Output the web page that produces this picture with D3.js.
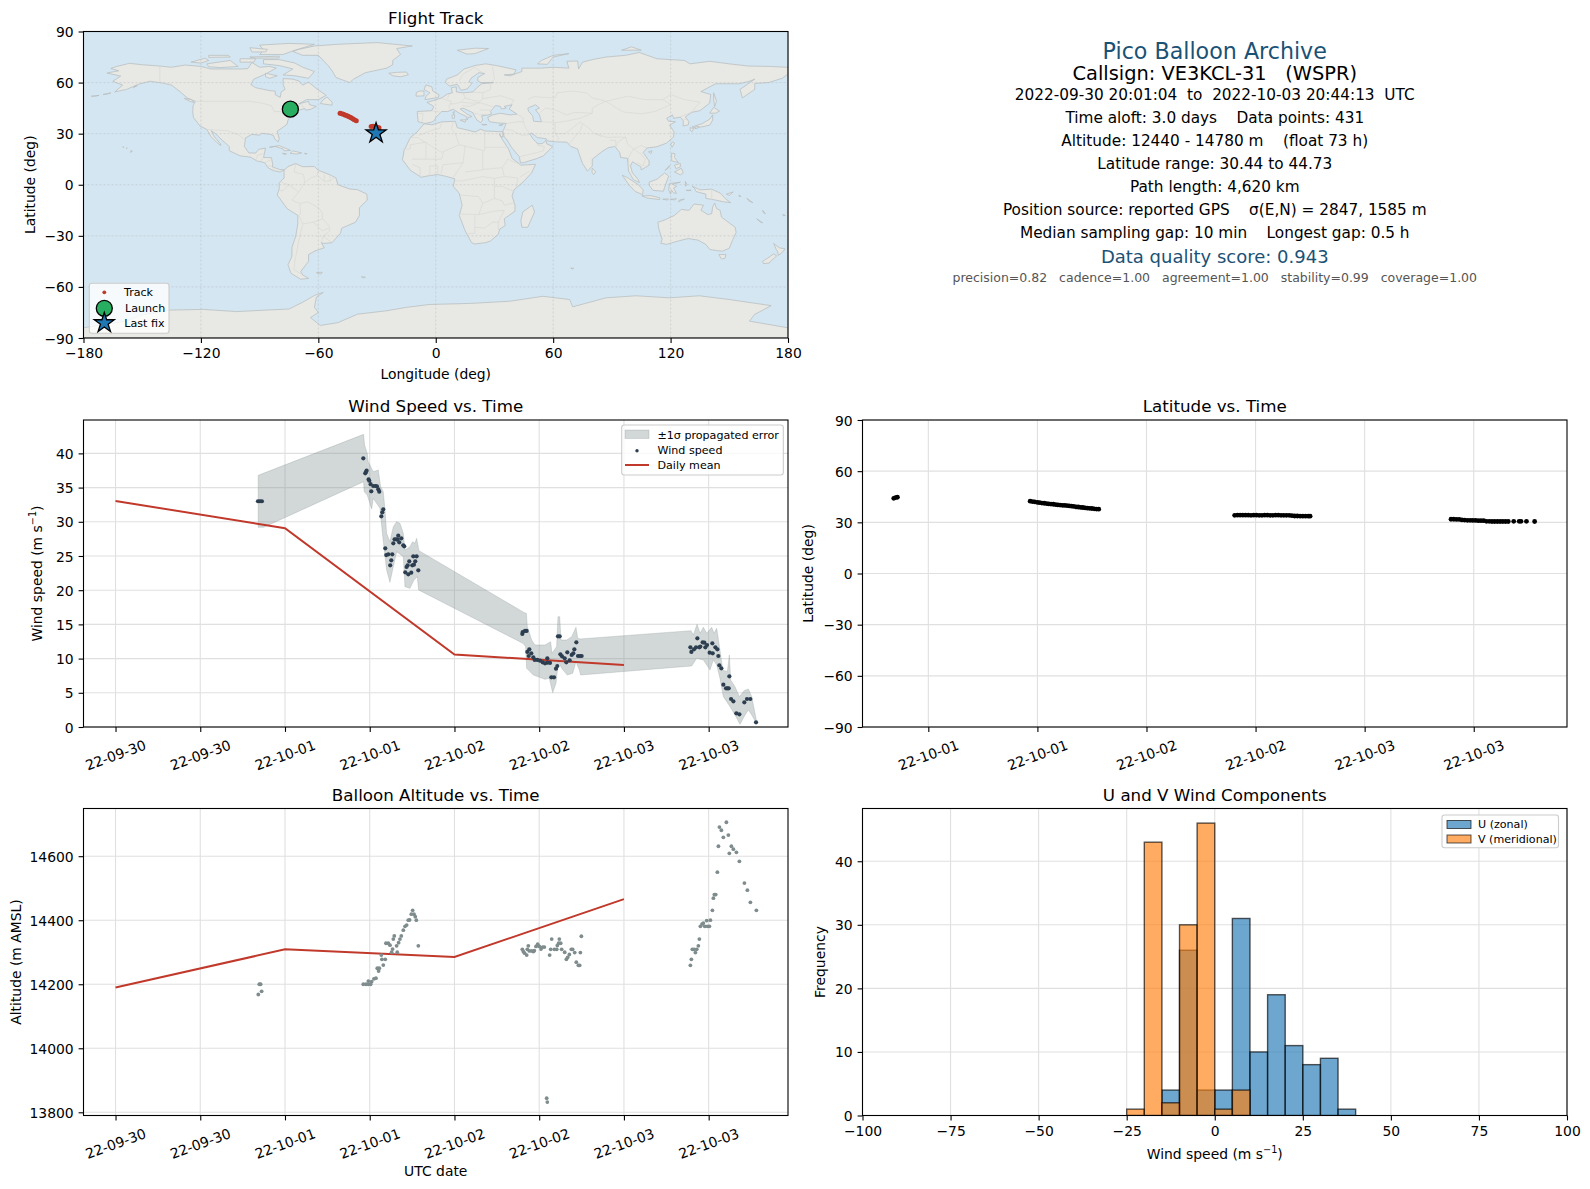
<!DOCTYPE html>
<html>
<head>
<meta charset="utf-8">
<script src="https://cdn.jsdelivr.net/npm/d3@7"></script>
<style>
  body { margin: 0; background: #fff; }
  text { font-family: "DejaVu Sans", sans-serif; white-space: pre; }
</style>
</head>
<body>
<div id="chart"></div>
<script>
// all times are hours after 2022-09-30 00:00 UTC
const windPoints = [
  [20.17,33],[20.45,33],[20.73,33],[35.09,39.28],[35.37,37.08],[35.46,37.28],[35.56,37.47],[35.84,36.2],[35.94,36],
  [36.12,35.5],[36.22,34.45],[36.5,35.23],[36.83,35.23],[37.02,35.18],[37.21,34.74],[37.35,34.4],[37.64,30.8],
  [37.78,31.38],[37.92,31.82],[38.2,26.12],[38.34,25.14],[38.63,25.24],[38.9,23.63],[39.05,24.36],[39.19,25.24],
  [39.34,26.85],[39.52,27.43],[39.76,27.43],[39.95,27.39],[40.04,27.97],[40.18,27],[40.47,27.58],[40.75,26.56],
  [40.89,26.41],[41.03,22.61],[41.22,23.39],[41.37,23.63],[41.46,22.32],[41.6,24.22],[41.88,22.56],[42.03,23.63],
  [42.17,24.95],[42.26,23.73],[42.45,24.22],[42.64,24.95],[42.88,22.9],
  [57.61,13.6],[57.66,13.89],[57.99,14.04],[58.22,14.04],[58.32,10.97],[58.51,10.38],[58.6,11.36],[58.88,10.77],
  [59.17,10.19],[59.36,9.8],[59.73,9.8],[60.11,9.7],[60.49,9.45],[60.82,9.31],[61.15,10.04],[61.15,9.41],[61.53,9.36],
  [61.72,7.26],[62.1,7.26],[62.38,8.53],[62.57,8.92],[62.66,13.26],[62.9,13.26],[63,10.62],[63.23,10.33],[63.61,10.04],
  [63.84,9.45],[63.98,10.92],[64.31,9.75],[64.6,10.53],[64.83,10.77],[64.98,11.36],[65.26,12.38],[65.5,10.38],
  [65.78,10.38],[66.01,10.38],
  [81.41,11.65],[81.55,10.97],[81.92,11.36],[82.21,11.65],[82.4,12.96],[82.68,11.65],[82.82,11.75],[83.15,12.38],
  [83.39,12.33],[83.53,11.65],[83.77,11.99],[84.14,10.87],[84.52,12.23],[84.57,10.77],[84.95,11.65],[85.23,11.36],
  [85.37,10.38],[85.51,9.02],[85.8,8.58],[86.08,6.19],[86.46,5.65],[86.65,5.65],[86.84,5.65],[86.93,7.41],[87.17,4.09],
  [87.5,3.75],[87.92,2],[88.35,1.85],[89.05,3.61],[89.43,4.09],[89.9,4.09],[90.71,0.68]
];
const bandUpper = [
  [20.2,36.79],[35.13,42.78],[35.27,41.23],[35.65,40],[35.79,38.79],[36.5,37.33],[37.21,37.57],[37.54,35.13],
  [37.92,34.4],[38.2,31.24],[38.39,28.31],[38.86,27.09],[39.34,29.29],[39.81,30.02],[40.28,29.77],[40.75,28.31],
  [40.99,25.87],[41.7,26.36],[42.07,27.09],[42.4,26.85],[42.64,27.58],[42.97,25.78],[57.89,16.72],[58.18,16.62],
  [58.32,14.67],[58.93,12.72],[59.4,11.99],[60.82,11.99],[61.62,12.48],[61.81,10.77],[62.47,11.75],[62.66,16.13],
  [62.9,16.13],[63.09,12.72],[63.89,12.72],[64.6,13.21],[65.21,14.57],[65.45,12.96],[65.78,12.87],[81.5,14.08],
  [81.83,13.45],[82.35,15.01],[82.78,13.7],[83.25,14.57],[83.72,13.7],[84.43,14.57],[84.76,13.7],[85.14,14.43],
  [85.6,11.26],[85.99,8.33],[86.65,8.09],[86.93,10.53],[87.12,6.87],[87.73,5.9],[88.35,4.44],[89.01,5.31],[89.62,5.56],
  [90.1,4.44],[90.75,1.02]
];
const bandLower = [
  [20.2,29.2],[21,29.2],[35.13,35.86],[35.22,34.4],[35.65,33.9],[36.27,31.87],[36.5,33.43],[37.45,31.97],[37.82,28.07],
  [38.39,22.95],[38.86,21.15],[39.34,23.44],[39.81,25.63],[40.75,24.9],[40.99,20.51],[41.7,20.27],[42.26,21.49],
  [42.74,21.98],[42.92,20.03],[57.75,12.2],[58.08,11.75],[58.22,8.58],[59.17,7.6],[60.82,6.97],[61.43,7.12],[61.91,5.02],
  [62.38,6.38],[62.71,9.55],[63.18,8.58],[63.98,7.6],[64.74,7.85],[65.21,9.55],[65.68,8.33],[65.87,7.6],[81.6,8.92],
  [82.3,10.04],[83.25,9.8],[84.19,8.33],[84.66,9.8],[85.14,9.07],[85.6,7.12],[86.08,4.44],[87.03,2.97],[87.73,1.76],
  [88.44,0.39],[89.15,1.76],[89.62,2.49],[90.1,1.76],[90.75,0.54]
];
const dailyHours = [0, 24, 48, 72];
const dailyWind = [33.05, 29.05, 10.6, 9.05];
const dailyAltitude = [14190, 14309, 14285, 14466];

const latPoints = [
  [20.2,44.1],[20.4,44.5],[20.6,44.7],
  [35.2,42.4],[35.45,42.2],[35.7,42],[36,41.7],[36.25,41.5],[36.5,41.3],[36.75,41.2],[37,41],[37.25,40.8],[37.5,40.7],
  [37.75,40.6],[38,40.4],[38.25,40.2],[38.5,40.1],[38.75,40],[39,39.9],[39.25,39.8],[39.5,39.6],[39.75,39.5],[40,39.3],
  [40.25,39.1],[40.5,39],[40.75,38.8],[41,38.7],[41.25,38.5],[41.5,38.3],[41.75,38.2],[42,38.1],[42.25,37.9],[42.5,37.8],[42.75,37.7],
  [57.7,34.1],[58,34.2],[58.3,34.2],[58.6,34.2],[58.9,34.2],[59.2,34.2],[59.5,34.1],[59.8,34.2],[60.1,34.2],[60.4,34.1],
  [60.7,34.1],[61,34.2],[61.3,34.2],[61.6,34.1],[61.9,34.1],[62.2,34.2],[62.5,34.2],[62.8,34.1],[63.1,34.1],[63.4,34.1],
  [63.7,34.1],[64,33.9],[64.3,33.7],[64.6,33.7],[64.9,33.6],[65.2,33.6],[65.5,33.6],[65.8,33.6],[66,33.6],
  [81.5,31.8],[81.8,31.8],[82.1,31.7],[82.4,31.7],[82.7,31.4],[83,31.3],[83.3,31.2],[83.6,31.2],[83.9,31.1],[84.2,31.1],
  [84.5,31],[84.8,31],[85.1,31],[85.4,30.6],[85.7,30.6],[86,30.5],[86.3,30.5],[86.6,30.5],[86.9,30.5],[87.2,30.5],[87.5,30.5],
  [87.8,30.5],[88.4,30.6],[89,30.6],[89.2,30.6],[89.8,30.6],[90.7,30.5]
];

const altitudePoints = [
  [20.22,14168],[20.36,14200],[20.55,14200],[20.69,14178],
  [35.09,14200],[35.47,14200],[35.8,14200],[35.8,14210],[36.13,14200],[36.27,14208],[36.6,14217],[36.88,14219],
  [37.07,14250],[37.26,14241],[37.36,14250],[37.64,14291],[37.73,14278],[37.92,14260],[38.2,14278],[38.3,14328],
  [38.63,14328],[38.87,14322],[39.1,14300],[39.24,14310],[39.34,14341],[39.48,14351],[39.81,14320],[39.9,14300],
  [40.09,14330],[40.28,14341],[40.47,14351],[40.76,14369],[41,14381],[41.23,14385],[41.46,14400],[41.65,14401],
  [41.89,14419],[42.08,14431],[42.27,14419],[42.45,14411],[42.6,14400],[42.88,14320],
  [57.61,14309],[57.76,14302],[57.94,14297],[58.23,14291],[58.32,14309],[58.46,14320],[58.6,14304],[58.94,14304],
  [59.17,14302],[59.31,14305],[59.55,14318],[59.79,14325],[60.02,14318],[60.26,14310],[60.49,14316],[60.73,14316],
  [61.06,13844],[61.15,13832],[61.48,14291],[61.63,14309],[61.77,14341],[62.15,14309],[62.48,14309],[62.57,14321],
  [62.76,14328],[62.85,14341],[63.04,14328],[63.18,14309],[63.61,14300],[63.85,14278],[64.03,14284],[64.27,14293],
  [64.55,14309],[64.74,14309],[65.03,14299],[65.26,14269],[65.55,14259],[65.73,14259],[65.83,14299],[65.97,14350],
  [81.41,14259],[81.55,14278],[81.69,14309],[81.93,14309],[82.12,14299],[82.31,14309],[82.54,14320],[82.68,14341],
  [82.83,14381],[83.06,14388],[83.25,14391],[83.44,14381],[83.72,14399],[83.82,14381],[84.1,14381],[84.24,14400],
  [84.53,14431],[84.67,14469],[84.81,14480],[85,14480],[85.23,14550],[85.38,14631],[85.52,14691],[85.8,14681],
  [86.08,14659],[86.51,14706],[86.79,14666],[86.93,14609],[87.22,14631],[87.5,14622],[87.93,14612],[88.35,14584],
  [89.06,14516],[89.48,14494],[89.91,14456],[90.76,14431]
];

const uBins = [[-15,4],[-10,26],[-5,4],[0,4],[5,31],[10,10],[15,19],[20,11],[25,8],[30,9],[35,1]];
const vBins = [[-25,1],[-20,43],[-15,2],[-10,30],[-5,46],[0,1],[5,4]];

// track in lon/lat
const trackPoints = [
  [-48.9,42],[-48,41.7],[-47.2,41.4],[-46.4,41],[-45.6,40.6],[-44.8,40.2],[-44,39.8],[-43.2,39.3],[-42.4,38.8],[-41.6,38.2],[-40.6,37.6],
  [-33,34.2],[-32,34.3],[-31,34.2],[-30,33.8],[-29,33.5],[-29,32],[-30,31],[-30.5,30.5]
];
const launchPoint = [-74.3, 44.4];
const lastPoint = [-30.5, 30.3];

const landPolygons = [
  // North America
  [[-168,65.6],[-164,66.5],[-162,66.9],[-166,68.3],[-163,69.5],[-156.5,71.3],[-150,70.5],[-141,69.7],[-135,69],[-128,70.3],[-120,69.5],[-115,68],[-108,68],[-100,68],[-96,68.2],[-94,71.8],[-90,69],[-85,69.5],[-81.5,68.5],[-87,65],[-93,62],[-94.5,58.8],[-92,57],[-85,55.3],[-82,55],[-82,52.9],[-79.5,51.3],[-79,54.5],[-77,56],[-78,59],[-78,62.4],[-73,62],[-70,61],[-68,58.5],[-65,60.3],[-61,56.5],[-56,52.5],[-60,50],[-66,50],[-70,47.5],[-65,49],[-64.5,47],[-61,46],[-64,44.3],[-66.5,43.8],[-67,44.8],[-70,43.7],[-70.5,41.8],[-74,40.6],[-75.5,38],[-76,35.5],[-78,33.8],[-81,31.5],[-80,27],[-80.5,25.2],[-82,26.5],[-83,29],[-85,29.7],[-89,30.2],[-90,29.1],[-94,29.6],[-97.2,27.5],[-97.8,22.5],[-95.5,18.7],[-92,18.6],[-90.5,20.8],[-87,21.5],[-88,16],[-84,15.9],[-83.3,12],[-83.5,10.5],[-80,9],[-77.5,8.7],[-79.5,7.5],[-83,8.3],[-85.7,10],[-87.5,13],[-91.5,14],[-94.5,16.2],[-100,17],[-105.5,20],[-105.5,22.5],[-109,26],[-112.5,30],[-114.7,31.7],[-113,28],[-110,24],[-109.8,23],[-112,25],[-115,28.5],[-117,32.5],[-120.5,34.5],[-123.8,39.5],[-124.2,43],[-124,46.5],[-122.8,49],[-127,51],[-130.5,54.5],[-135,58.5],[-140,59.8],[-146,60.8],[-152,59],[-158,56],[-164,54.5],[-160,58.5],[-165,60.8],[-161,63.8]],
  // Canadian arctic
  [[-80,73.5],[-72,71.5],[-68,69],[-62,66.5],[-65,62.5],[-72,64],[-78,64.5],[-73,68],[-80,70],[-88,71],[-88,73.5]],
  [[-117,71],[-105,73],[-101,69.5],[-110,68.8],[-116,69.3]],
  [[-125,72],[-118,74.3],[-116,73],[-120,71.5]],
  [[-90,76.5],[-78,76.5],[-72,79],[-62,82.5],[-75,83],[-90,82],[-88,79]],
  [[-95,75],[-80,75.5],[-80,74.5],[-92,74.3]],
  [[-116,76],[-106,76],[-105,75],[-116,74.8]],
  [[-95,80.5],[-86,79.5],[-87,78],[-94,78]],
  [[-100,74],[-92,74],[-93,72],[-100,72]],
  [[-87,65.5],[-81,64],[-85,62.5],[-87,63.5]],
  [[-59,47.7],[-53,46.7],[-53,48.5],[-55.5,51.5],[-57.5,50]],
  [[-128.5,50.7],[-125,50],[-123.5,48.4],[-125.5,48.9]],
  [[-153.5,57.8],[-152.5,58.3],[-154.5,57]],
  [[-176,52],[-172,52.5],[-174,52]],[[-170,53],[-166,54],[-168,53.2]],
  [[-85,22],[-80,23],[-74.2,20.2],[-77.5,19.9],[-78,21],[-82,22.5]],
  [[-74.4,18.5],[-73,19.9],[-68.5,18.7],[-71,18]],
  [[-78.3,18.4],[-76.3,18.2],[-77,17.8]],[[-67,18.5],[-65.7,18.3],[-66.8,18]],
  [[-156,19],[-155,19.7],[-155.7,20.2]],[[-158.2,21.5],[-157.7,21.7],[-157.8,21.3]],[[-160,22.2],[-159.3,22.2],[-159.5,21.9]],
  // Greenland, Iceland
  [[-73,78.3],[-68,76],[-60,76],[-55,70],[-53,67],[-51,63],[-44,60],[-42,62],[-36,65.8],[-25,68.5],[-22,70.5],[-22,73],[-18,76.5],[-20,80],[-12,81.5],[-30,83.5],[-50,82.5],[-62,81.5],[-70,79.5]],
  [[-24,65.5],[-22,64],[-18,63.4],[-14,64.6],[-15,66.2],[-20,66]],
  // South America
  [[-77.5,8.7],[-75,11],[-71.5,12.4],[-68,10.6],[-62,10.7],[-60,8.5],[-54,5.8],[-51,4],[-50,0],[-44,-2.5],[-40,-2.9],[-35.2,-5.5],[-35,-9],[-39,-13.5],[-39,-18],[-41,-22],[-48,-25.5],[-48.7,-28.5],[-53,-34],[-57,-34.5],[-58.5,-34],[-57,-37],[-62,-39],[-65,-41],[-65,-45],[-69,-51],[-68,-53],[-65,-55],[-69,-55.5],[-74,-52],[-75.5,-47],[-73.5,-42],[-73.5,-37],[-71.5,-30],[-70.5,-23],[-70.5,-18],[-76,-14],[-81,-6],[-80,-2.5],[-80,1],[-77.5,4],[-77.5,7]],
  [[-61,-51.5],[-58,-51.4],[-58.5,-52.3],[-60.5,-52.2]],
  [[-38,-54],[-36,-54.3],[-37,-54.7]],
  // Africa
  [[-6,35.8],[-2,35.2],[3,36.9],[10,37.3],[11,33.5],[15.5,32.3],[20,31],[23,32.6],[25,31.6],[32,31.2],[34.3,31.2],[34.3,28],[33.3,28.2],[32.5,30],[33.8,27],[35.5,24],[37.2,21],[39,15.5],[43,12],[43.3,11.5],[51,12],[49,7],[45,2],[40,-3],[39,-6.5],[40.5,-12],[40.5,-15.5],[35,-20],[35.5,-24],[32.7,-26],[32,-29],[28,-33],[25.5,-34],[20,-34.8],[18.3,-34],[15,-27],[12,-18],[13.5,-12],[12,-5],[9,-1],[9.7,3.5],[5,5],[1,6],[-4,5.2],[-7.5,4.4],[-13,8.5],[-17,14.7],[-16.2,20],[-13,27.7],[-9.5,31]],
  [[49.3,-12],[50.5,-16],[47,-25],[44,-25],[43.5,-21],[44.5,-16]],
  // Eurasia
  [[-9,37],[-9.5,43],[-2,43.5],[-1,46],[-4.5,48.4],[-1,49.5],[3,51],[6,53.3],[8.5,54],[8,57],[10.5,57.5],[10.5,54.5],[14,54],[19,54.5],[21,57],[23.5,59.3],[29.5,60],[23,60],[21.5,61],[21.5,63],[25,65.3],[22,65.8],[18,62.5],[17,60.5],[18.5,59.5],[16,56.2],[13,55.5],[11,59],[7,58],[5,60],[5.5,62],[11,64.5],[14.5,68],[20,70],[25.5,71],[31,70],[41,67.5],[40,65],[35,64.5],[38,64],[44,66.5],[44,68.5],[54,68.5],[60,69],[68,68.5],[67,72.5],[72.5,72.7],[73,68],[75,72],[80,73.5],[87,75],[97,76],[104,77.7],[113,74],[127,73],[130,71],[140,72.5],[150,71],[160,69.7],[170,69.5],[180,69],[180,65],[177,62.5],[170,60],[163,59.5],[163,56],[156.7,51],[155.5,56],[163,62],[160,60.7],[155,59.3],[143,59.3],[135.5,54.7],[140.5,53],[140,48],[135,43.5],[130.7,42.5],[127.5,39.8],[129.4,37],[129,35.2],[126.4,34.5],[126.5,37.5],[125,39.7],[121.5,39],[121,41],[118,39],[119,37.3],[122.5,37],[119.5,35],[121.8,31],[121.5,28],[118,24.5],[113,22.3],[108,21.6],[106,19],[109,14],[109,11.5],[105,8.7],[104.8,10.5],[100.5,13.5],[99.5,11],[100.5,7],[103.5,3],[104,1.3],[101,3],[98.5,8],[98,15.5],[94.5,16],[94,19],[91.5,22.5],[88,21.7],[85,19.5],[80,15],[80,11],[77.5,8],[75,12.5],[73,19],[72.5,21],[69,22.5],[67,25],[61,25.2],[57,25.8],[56.5,27],[52,27.7],[49,30.3],[48,29.9],[50,26.5],[51.5,25],[52,24],[54.5,24.2],[56.3,26],[56.7,24],[59.8,22.5],[55,17],[52,15.5],[45,13],[43.3,12.8],[42.7,16.5],[39,21.5],[36,27],[35,28],[34.3,31.2],[36,36],[32.5,36.2],[30.5,36.5],[27.5,37],[26.5,39.5],[29,41],[33,42],[38,41],[41.5,41.5],[37.5,44.5],[39,47],[35,46],[36,45],[33.5,44.5],[33,46],[30.5,46.5],[28,43],[28.5,41.5],[26,40.8],[23.5,40.5],[24,38],[23,36.5],[21,38],[19.5,41],[19,42.3],[14,45],[12.5,44.5],[16,41.5],[18.5,40],[16.5,39.5],[16,38],[15.8,40],[12,42],[9,44.3],[6,43],[3,43],[0,39.5],[-0.5,38],[-2,36.8],[-5.5,36]],
  // Europe islands
  [[-5.5,50],[1.3,51.2],[1.7,52.8],[-1.5,55],[-2,57.5],[-5,58.6],[-6,56],[-3,54],[-5,52]],
  [[-10,52],[-6,52.2],[-6,55],[-8.5,55],[-10,54]],
  [[11,79],[20,80.2],[27,80],[20,77],[16,76.7]],
  [[52,71],[57,70.7],[60,75],[68,77],[60,76],[54,73]],
  [[95,79],[105,79],[100,81]],
  [[12.5,38],[15.5,38.2],[15,36.7]],[[8.3,41],[9.7,41],[9.5,39],[8.5,39]],[[8.7,42.5],[9.5,43],[9.3,41.5]],[[23.5,35.5],[26.2,35.3],[24,35]],[[32.3,35],[34.5,35.6],[33.5,34.7]],
  // Asia islands
  [[142,54],[143.5,49],[142.5,46],[142,50]],
  [[131,34],[136,35.8],[140,38.5],[141.5,41],[141.5,38],[140,35],[136,34],[132,33.5]],
  [[140,42],[142,45.5],[145,43.3],[143,42]],
  [[130,33.5],[131.8,33],[131,31.2],[130,32]],
  [[132.5,34],[134.5,34.2],[134,33.3],[132.5,33]],
  [[121,25.2],[122,24.5],[120.8,22],[120.1,23.5]],
  [[108.7,19.3],[110.5,20],[110,18.3]],
  [[120.5,18.5],[122.2,18.3],[122,16],[124,13],[120.6,14]],
  [[122,7.5],[125.5,9.7],[126.5,7],[125,5.8]],
  [[122,11.5],[125,12.5],[125,10.5],[122.8,9.5]],
  [[117.2,8.4],[119.5,11.3],[119.2,10.3]],
  [[109,1.5],[113,3.2],[117,7],[119,5],[117.7,1],[116.3,-3.8],[111,-3.3],[109.2,-0.5]],
  [[95.3,5.6],[98,4.2],[103.5,0],[106,-3],[105.7,-5.8],[102,-4],[99,-0.5]],
  [[105.3,-6.5],[110,-6.4],[114.5,-7.7],[114.4,-8.7],[108,-7.8]],
  [[119.5,0.7],[125,1.5],[121,0.4],[123,-1],[121.5,-1.9],[123,-5],[121.5,-4.8],[120.4,-3],[120,-5.5],[119,-3]],
  [[116,-8.5],[119,-8.3],[118.5,-9]],[[119.8,-8.5],[123,-8.2],[122,-8.9]],[[124,-10],[127,-8.4],[124.5,-9]],
  [[127.5,2],[128.5,0],[127.7,-0.8]],[[128,-3.2],[130.5,-3.2],[129,-3.5]],
  [[80,9.7],[81.8,7.5],[80.6,5.9],[79.8,7.5]],
  // Oceania
  [[131,-0.8],[135,-3],[141,-2.6],[145.5,-5],[148,-8.2],[150.7,-10.5],[147,-10],[143,-9],[138,-8],[138,-5.5],[133,-4],[132.5,-2.5]],
  [[148.5,-5.5],[152,-4.2],[150,-6.3]],[[155,-6],[156,-7],[155,-6.8]],[[159,-8],[162,-10.5],[160,-9.5]],
  [[167,-15],[167.5,-16.5],[168.5,-17]],[[164,-20],[167,-22.3],[166,-22]],[[177.3,-17.5],[178.6,-18],[177.5,-18.2]],
  [[113.5,-22],[114,-26],[115.7,-32],[115,-34.4],[118,-35],[124,-33],[129,-31.6],[134,-32.5],[138,-35],[140,-38],[144,-38.7],[146.5,-39],[150,-37.3],[151.5,-33],[153.5,-28],[153,-25],[149.5,-22],[146,-19],[145.3,-15],[143.5,-14],[142.5,-10.8],[141.5,-13],[141,-17],[139,-17.5],[135.5,-15],[136.8,-12],[132,-11.3],[129.5,-15],[125.5,-14.5],[122,-18],[117,-20.7]],
  [[144.7,-41],[148.3,-41],[147.8,-43.2],[146,-43.6]],
  [[172.7,-34.5],[175.5,-37],[178.5,-37.7],[176.8,-40],[175,-41.5],[174.8,-39.5],[174,-38]],
  [[172.7,-40.6],[174.2,-41.8],[171,-45],[170.5,-46],[167.5,-46.3],[167,-45],[171,-42]],
  [[69,-49],[70.5,-49],[70,-49.5]],
  // Antarctica
  [[-180,-84],[-158,-80],[-150,-76.5],[-135.8,-73.6],[-118.8,-73.2],[-101.7,-74.5],[-85,-73.5],[-75,-73],[-68,-69],[-62,-65],[-57.5,-63.2],[-61,-66],[-62,-72],[-60,-75],[-64,-78],[-59,-82.6],[-50,-81],[-40,-76],[-25,-74],[-15,-72],[-3,-70.3],[17.4,-69.7],[37.8,-68.4],[54.8,-65.5],[68.4,-67.4],[70,-71.7],[87,-66.4],[102.4,-65.2],[119.4,-66.4],[134.7,-65.2],[150,-67.4],[171.4,-71],[162.9,-76.2],[160.3,-80.1],[180,-84],[180,-90],[-180,-90]]
];
const lakePolygons = [
  [[47,45],[51,47],[53,45],[51,44],[53,41],[54,37],[50,37.3],[49.5,40.5],[47.5,43]]
];
const borderLines = [
  [[-123,49],[-95,49],[-89,48],[-84,46.5],[-82.5,43],[-79,43],[-75,45],[-71,45],[-69,47.3],[-67.5,45.5]],
  [[-141,69.7],[-141,60.3],[-135,59]],[[-117,32.5],[-106.5,31.7],[-101,29.5],[-97.2,26]],
  [[-92,14.6],[-91,17.5],[-89,17.9],[-88.2,18.4]],[[-89.2,14],[-88.5,15.9]],[[-87.5,13],[-83.3,15]],[[-85.7,11],[-83.7,11]],[[-83,8.3],[-83,9.6]],
  [[-71.5,12],[-72.5,7.5],[-67.5,6],[-67,1.2],[-70,-4.2]],[[-78.8,1.4],[-75,0],[-70,-4.2],[-73.5,-9],[-69.5,-11],[-65.3,-10],[-60,-13.5],[-58,-16.5],[-57.8,-20],[-54.6,-24],[-54,-27],[-57.6,-30.2],[-53.5,-33.7]],
  [[-80.3,-3.4],[-78,-3.5],[-75,0]],[[-60,8.3],[-60.7,5.2],[-64,4],[-67,1.2]],[[-60,5],[-57,2],[-54,2.3],[-51.7,4.2]],[[-57,6],[-57,2]],[[-54,5.8],[-54,2.3]],
  [[-70,-18],[-68,-23],[-70,-33],[-72,-45],[-72.5,-50],[-68.5,-52.5]],[[-69.5,-11],[-69,-17],[-70,-18]],[[-68,-23],[-62.5,-22],[-57.8,-20]],[[-62.5,-22],[-58,-27],[-54.6,-25.5]],[[-58.4,-34],[-57.6,-30.2]],
  [[-8.7,27.7],[-13,27.7]],[[-8.7,27.3],[3,19],[12,23.5],[25,20],[25,32]],[[25,22],[36.8,22]],[[-12,15],[3,15],[4,19]],[[-17,21],[-13,21],[-13,23.5],[-5,25],[-5,15]],[[14,13],[15,23]],
  [[-8,4.5],[-8,10],[-12,12]],[[-3,5],[-3,11],[1,11],[1,6]],[[2.8,6.4],[3.6,11.7],[14,13],[9,4.5]],[[15,7.5],[24,8.7],[24,20]],[[24,9],[34,10],[36.8,15],[43,12]],[[34,10],[35,4.8],[42,4],[41,-1.7]],
  [[48,8],[43,4.5]],[[30,3.7],[35,4.8]],[[30,-1],[34,-1],[40,-4]],[[30,3.7],[30,-8],[34,-9.5],[35,-12],[40.5,-10.5]],[[12.5,-6],[22,-7],[24,-11],[30,-8]],[[24,-11],[22,-17.5],[12,-17.2]],[[20,-18],[20,-28.5],[16.5,-28.6]],
  [[22,-17.5],[30,-15.5],[35,-15],[32,-22],[32,-26.5]],[[20,-25],[25,-25.5],[29,-22],[32,-22]],[[9,2.2],[13.5,2.2],[18.5,3.5],[24,4.8],[30,3.7]],[[3,36],[2,33],[-2,32],[-8.7,29]],[[9,37],[8,33],[10,30],[12,23.5]],
  [[-9,41.8],[-6.5,42],[-7,37]],[[-1.7,43.4],[3,42.5]],[[2.5,51],[6,49.5],[8,49],[7.5,47.5],[6.5,46],[7.5,44]],[[6.8,53.3],[6,50.5]],[[14,54],[15,51],[13,48.5],[9.5,47.5],[7.5,47.5]],
  [[19,54.4],[24,54],[24,50.5],[22.5,49],[19,49.5],[15,51]],[[13,48.5],[17,48],[22.5,48.2],[30,45.5]],[[13.5,46.5],[17,46],[22.5,48.2]],[[22.5,44],[28,43.8]],[[24,54],[28,56],[28,59.5]],[[24,50.5],[33,52.3],[40,49.7],[38.5,47.2]],
  [[28,60],[30,62],[29,69.5]],[[20,69],[23.5,66],[24.5,65.8]],[[12,61],[14,65],[20,69]],[[19.5,41.5],[21,42],[22.5,41],[26,41.5]],
  [[47,50],[50,51.7],[61,51],[62,54],[70,55],[77,54],[80,51],[87,49]],[[87,49],[98,52],[107,50],[116,50],[120,47],[112,43],[105,41.7],[96,42.7],[91,46],[87,49]],[[116,50],[120,53],[127,50],[135,48.5],[131,43]],
  [[53,42],[56,45],[61,44],[67,41],[71,42.5],[80,42],[80,45],[83,47],[87,49]],[[54,37],[61,36.5],[66.5,37.3],[73.5,39],[80,42]],[[61,30],[66,30],[70,33.5],[74,37],[75,36]],[[61,25],[63,27],[61,30],[61,36.5]],
  [[75,36],[79,32.5],[81,30],[88,27.8],[92,28],[97,28],[98,24],[101,21],[105,23],[108,21.6]],[[68,23.7],[71,28],[74,32],[75,36]],[[98.7,10.5],[98.5,16],[101,21],[105,18],[107,15],[106,11],[103,13]],
  [[44.5,39.5],[44.8,37],[42,37],[36,36]],[[44.8,37],[46,33],[48,30]],[[48,29.5],[44,29],[39,32],[35.5,32.5]],[[43,16.5],[52,19],[55,20],[55.5,22.5],[52,23]],[[41.5,41.5],[44.5,39.5]],[[125,40],[130.7,42.5]],[[126,38],[128.5,38.5]],
  [[141,-2.6],[141,-9]],[[85,28],[82,30]],[[92,22],[93,25],[97,28]],[[89,26],[92,26],[92,22]]
];

const yearTicks = [0, 12, 24, 36, 48, 60, 72, 84];
const latTicks = [24, 36, 48, 60, 72, 84];
const windTicks = [0, 5, 10, 15, 20, 25, 30, 35, 40];
const altTicks = [13800, 14000, 14200, 14400, 14600];
const degTicks = [-90, -60, -30, 0, 30, 60, 90];
const lonTicks = [-180, -120, -60, 0, 60, 120, 180];
const histXTicks = [-100, -75, -50, -25, 0, 25, 50, 75, 100];
const histYTicks = [0, 10, 20, 30, 40];

const infoLines = [
  "2022-09-30 20:01:04  to  2022-10-03 20:44:13  UTC",
  "Time aloft: 3.0 days    Data points: 431",
  "Altitude: 12440 - 14780 m    (float 73 h)",
  "Latitude range: 30.44 to 44.73",
  "Path length: 4,620 km",
  "Position source: reported GPS    σ(E,N) = 2847, 1585 m",
  "Median sampling gap: 10 min    Longest gap: 0.5 h"
];

const colors = {
  ocean: "#d4e6f1", land: "#e8e8e4", coast: "#b4babb", border: "#d9d9d5",
  red: "#c0392b", navy: "#2c3e50", slate: "#7f8c8d", green: "#27ae60",
  star: "#1f77b4", title: "#1a5276", grid: "#e0e0e0", u: "#1f77b4", v: "#ff7f0e"
};

const t0 = Date.UTC(2022, 8, 30);
const toDate = (h) => new Date(t0 + h * 3600e3);

const left = { x0: 83.5, x1: 788 };
const right = { x0: 862.5, x1: 1567 };
const rows = [
  { y0: 31.5, y1: 338 },
  { y0: 420, y1: 727 },
  { y0: 808.5, y1: 1115.5 }
];

const svg = d3.select("#chart").append("svg")
  .attr("width", 1590).attr("height", 1189)
  .style("display", "block");

const x2 = d3.scaleUtc().domain([toDate(-4.535), toDate(95.235)]).range([left.x0, left.x1]);
const xLat = d3.scaleUtc().domain([toDate(16.76), toDate(94.26)]).range([right.x0, right.x1]);

function makeId(name) { return "clip-" + name; }

// frame, grid, ticks, title for one panel; returns the group to draw marks in
function panel(name, col, row, x, y, xTicks, yTicks, xFormat, title, yFormat) {
  const g = svg.append("g");
  g.append("clipPath").attr("id", makeId(name)).append("rect")
    .attr("x", col.x0).attr("y", row.y0)
    .attr("width", col.x1 - col.x0).attr("height", row.y1 - row.y0);

  const grid = g.append("g");
  const marks = g.append("g").attr("clip-path", `url(#${makeId(name)})`);
  grid.selectAll("line.gx").data(xTicks).join("line")
    .attr("x1", x).attr("x2", x).attr("y1", row.y0).attr("y2", row.y1)
    .attr("stroke", colors.grid).attr("stroke-width", 1.1);
  grid.selectAll("line.gy").data(yTicks).join("line")
    .attr("x1", col.x0).attr("x2", col.x1).attr("y1", y).attr("y2", y)
    .attr("stroke", colors.grid).attr("stroke-width", 1.1);

  const top = g.append("g");
  top.append("rect")
    .attr("x", col.x0).attr("y", row.y0)
    .attr("width", col.x1 - col.x0).attr("height", row.y1 - row.y0)
    .attr("fill", "none").attr("stroke", "#000").attr("stroke-width", 1.1);

  const xAxis = d3.axisBottom(x).tickValues(xTicks).tickSize(4.9).tickPadding(5.5).tickSizeOuter(0);
  if (xFormat) xAxis.tickFormat(xFormat);
  const ax = top.append("g")
    .attr("transform", `translate(0,${row.y1})`)
    .style("font-size", "13.9px").call(xAxis);
  ax.select(".domain").remove();
  ax.selectAll("line").attr("stroke-width", 1.1);

  const yAxis = d3.axisLeft(y).tickValues(yTicks).tickSize(4.9).tickPadding(4.9).tickSizeOuter(0);
  if (yFormat) yAxis.tickFormat(yFormat);
  const ay = top.append("g")
    .attr("transform", `translate(${col.x0},0)`)
    .style("font-size", "13.9px")
    .call(yAxis);
  ay.select(".domain").remove();
  ay.selectAll("line").attr("stroke-width", 1.1);
  ay.selectAll("text").attr("dy", "0.36em");
  g.selectAll(".tick text").style("font-family", '"DejaVu Sans", sans-serif');

  top.append("text")
    .attr("x", (col.x0 + col.x1) / 2).attr("y", row.y0 - 7.8)
    .attr("text-anchor", "middle").style("font-size", "16.7px").text(title);

  return { g, marks, top, ax };
}

function rotateDates(ax) {
  ax.selectAll(".tick text")
    .attr("text-anchor", "middle")
    .attr("y", 0).attr("dy", 0)
    .attr("transform", "translate(0,29) rotate(-20)")
    .attr("dominant-baseline", "middle");
}

function xLabel(cx, y, text) {
  return svg.append("text").attr("x", cx).attr("y", y)
    .attr("text-anchor", "middle").attr("dominant-baseline", "middle")
    .style("font-size", "13.9px").text(text);
}
function yLabel(x, cy, text) {
  return svg.append("text").attr("transform", `translate(${x},${cy}) rotate(-90)`)
    .attr("text-anchor", "middle").attr("dominant-baseline", "middle")
    .style("font-size", "13.9px").text(text);
}
// m s^-1 with a raised exponent
function unitText(sel, before) {
  sel.text(before);
  sel.append("tspan").attr("dy", -5).style("font-size", "9.7px").text("−1");
  sel.append("tspan").attr("dy", 5).text(")");
}

function legendBox(x, y, w, h) {
  svg.append("rect").attr("x", x).attr("y", y).attr("width", w).attr("height", h)
    .attr("rx", 2.5).attr("fill", "#fff").attr("fill-opacity", 0.8)
    .attr("stroke", "#ccc").attr("stroke-width", 1.1);
}
function legendText(x, y, text) {
  svg.append("text").attr("x", x).attr("y", y).attr("dominant-baseline", "middle")
    .style("font-size", "11.1px").text(text);
}

/* ---- map ---- */
const mapX = d3.scaleLinear().domain([-180, 180]).range([left.x0, left.x1]);
const mapY = d3.scaleLinear().domain([-90, 90]).range([rows[0].y1, rows[0].y0]);
const geo = d3.line().x((d) => mapX(d[0])).y((d) => mapY(d[1]));

const map = panel("map", left, rows[0], mapX, mapY, lonTicks, degTicks, null, "Flight Track");
const mapMarks = map.marks;
mapMarks.append("rect")
  .attr("x", left.x0).attr("y", rows[0].y0)
  .attr("width", left.x1 - left.x0).attr("height", rows[0].y1 - rows[0].y0)
  .attr("fill", colors.ocean);
mapMarks.append("g").selectAll("path").data(landPolygons).join("path")
  .attr("d", (d) => geo(d) + "Z").attr("fill", colors.land)
  .attr("stroke", colors.coast).attr("stroke-width", 0.7).attr("stroke-linejoin", "round");
mapMarks.append("g").selectAll("path").data(lakePolygons).join("path")
  .attr("d", (d) => geo(d) + "Z").attr("fill", colors.ocean)
  .attr("stroke", colors.coast).attr("stroke-width", 0.7);
mapMarks.append("g").selectAll("path").data(borderLines).join("path")
  .attr("d", (d) => geo(d)).attr("fill", "none")
  .attr("stroke", colors.border).attr("stroke-width", 0.7);
mapMarks.selectAll("line.mx").data(lonTicks).join("line").attr("class", "mx")
  .attr("x1", mapX).attr("x2", mapX).attr("y1", rows[0].y0).attr("y2", rows[0].y1)
  .attr("stroke", "#a8adb0").attr("stroke-opacity", 0.6).attr("stroke-width", 0.6).attr("stroke-dasharray", "2,2");
mapMarks.selectAll("line.my").data(degTicks).join("line").attr("class", "my")
  .attr("x1", left.x0).attr("x2", left.x1).attr("y1", mapY).attr("y2", mapY)
  .attr("stroke", "#a8adb0").attr("stroke-opacity", 0.6).attr("stroke-width", 0.6).attr("stroke-dasharray", "2,2");
mapMarks.selectAll("circle.track").data(trackPoints).join("circle").attr("class", "track")
  .attr("cx", (d) => mapX(d[0])).attr("cy", (d) => mapY(d[1])).attr("r", 2.5)
  .attr("fill", colors.red);
mapMarks.append("circle").attr("cx", mapX(launchPoint[0])).attr("cy", mapY(launchPoint[1])).attr("r", 8)
  .attr("fill", colors.green).attr("stroke", "#000").attr("stroke-width", 1.3);
const starPath = d3.symbol(d3.symbolStar, 125)();
mapMarks.append("path").attr("d", starPath)
  .attr("transform", `translate(${mapX(lastPoint[0])},${mapY(lastPoint[1])})`)
  .attr("fill", colors.star).attr("stroke", "#000").attr("stroke-width", 1.3);

legendBox(89.3, 283.3, 79.7, 50);
svg.append("circle").attr("cx", 104.3).attr("cy", 292.3).attr("r", 1.9).attr("fill", colors.red);
svg.append("circle").attr("cx", 104.3).attr("cy", 308.3).attr("r", 8)
  .attr("fill", colors.green).attr("stroke", "#000").attr("stroke-width", 1.3);
svg.append("path").attr("d", starPath).attr("transform", "translate(104.3,323)")
  .attr("fill", colors.star).attr("stroke", "#000").attr("stroke-width", 1.3);
legendText(124, 292.5, "Track");
legendText(125, 308.5, "Launch");
legendText(124.3, 323.5, "Last fix");

xLabel((left.x0 + left.x1) / 2, 375, "Longitude (deg)");
yLabel(30.5, (rows[0].y0 + rows[0].y1) / 2, "Latitude (deg)");

/* ---- info block ---- */
const infoX = (right.x0 + right.x1) / 2;
const info = svg.append("g").attr("text-anchor", "middle");
const infoRow = (y, size, color, text) =>
  info.append("text").attr("x", infoX).attr("y", y).attr("dominant-baseline", "middle")
    .style("font-size", size).attr("fill", color).text(text);
infoRow(52.3, "22.2px", colors.title, "Pico Balloon Archive");
infoRow(74.3, "19.4px", "#000", "Callsign: VE3KCL-31   (WSPR)");
const infoYs = [95.2, 118.4, 141.7, 164.5, 187.5, 210.7, 233.5];
infoLines.forEach((line, i) => infoRow(infoYs[i], "15.3px", "#000", line));
infoRow(257.5, "18px", colors.title, "Data quality score: 0.943");
infoRow(278, "12.5px", "#555", "precision=0.82   cadence=1.00   agreement=1.00   stability=0.99   coverage=1.00");

/* ---- wind speed ---- */
const windY = d3.scaleLinear().domain([0, 44.88]).range([rows[1].y1, rows[1].y0]);
const hourFmt = d3.utcFormat("%y-%m-%d");
const wind = panel("wind", left, rows[1], x2, windY, yearTicks.map(toDate), windTicks, hourFmt, "Wind Speed vs. Time");
rotateDates(wind.ax);

const bandLine = d3.line().x((d) => x2(toDate(d[0]))).y((d) => windY(d[1]));
wind.marks.append("path")
  .attr("d", bandLine(bandUpper.concat(bandLower.slice().reverse())) + "Z")
  .attr("fill", colors.slate).attr("fill-opacity", 0.35)
  .attr("stroke", colors.slate).attr("stroke-opacity", 0.25).attr("stroke-width", 1);
const windMean = d3.line().x((d, i) => x2(toDate(dailyHours[i]))).y((d) => windY(d));
wind.marks.append("path").attr("d", windMean(dailyWind))
  .attr("fill", "none").attr("stroke", colors.red).attr("stroke-width", 2);
wind.marks.selectAll("circle").data(windPoints).join("circle")
  .attr("cx", (d) => x2(toDate(d[0]))).attr("cy", (d) => windY(d[1])).attr("r", 2.1)
  .attr("fill", colors.navy);

legendBox(621.7, 425, 161.6, 50);
svg.append("rect").attr("x", 625).attr("y", 430).attr("width", 24).attr("height", 8.5)
  .attr("fill", colors.slate).attr("fill-opacity", 0.35).attr("stroke", colors.slate).attr("stroke-opacity", 0.25);
svg.append("circle").attr("cx", 637).attr("cy", 450.7).attr("r", 1.7).attr("fill", colors.navy);
svg.append("line").attr("x1", 625).attr("x2", 649).attr("y1", 465).attr("y2", 465)
  .attr("stroke", colors.red).attr("stroke-width", 2);
legendText(657.5, 435.5, "±1σ propagated error");
legendText(657.5, 451, "Wind speed");
legendText(657.5, 466.3, "Daily mean");

unitText(yLabel(37.5, (rows[1].y0 + rows[1].y1) / 2, ""), "Wind speed (m s");

/* ---- latitude ---- */
const latY = d3.scaleLinear().domain([-90, 90]).range([rows[1].y1, rows[1].y0]);
const lat = panel("lat", right, rows[1], xLat, latY, latTicks.map(toDate), degTicks, hourFmt, "Latitude vs. Time");
rotateDates(lat.ax);
lat.marks.selectAll("circle").data(latPoints).join("circle")
  .attr("cx", (d) => xLat(toDate(d[0]))).attr("cy", (d) => latY(d[1])).attr("r", 2.4)
  .attr("fill", "#000");
yLabel(809, (rows[1].y0 + rows[1].y1) / 2, "Latitude (deg)");

/* ---- altitude ---- */
const altY = d3.scaleLinear().domain([13790, 14749]).range([rows[2].y1, rows[2].y0]);
const alt = panel("alt", left, rows[2], x2, altY, yearTicks.map(toDate), altTicks, hourFmt, "Balloon Altitude vs. Time", d3.format("d"));
rotateDates(alt.ax);
const altMean = d3.line().x((d, i) => x2(toDate(dailyHours[i]))).y((d) => altY(d));
alt.marks.append("path").attr("d", altMean(dailyAltitude))
  .attr("fill", "none").attr("stroke", colors.red).attr("stroke-width", 2);
alt.marks.selectAll("circle").data(altitudePoints).join("circle")
  .attr("cx", (d) => x2(toDate(d[0]))).attr("cy", (d) => altY(d[1])).attr("r", 1.9)
  .attr("fill", colors.slate);
xLabel((left.x0 + left.x1) / 2, 1172, "UTC date");
yLabel(16.5, (rows[2].y0 + rows[2].y1) / 2, "Altitude (m AMSL)");

/* ---- histogram ---- */
const histX = d3.scaleLinear().domain([-100, 100]).range([right.x0, right.x1]);
const histY = d3.scaleLinear().domain([0, 48.3]).range([rows[2].y1, rows[2].y0]);
const hist = panel("hist", right, rows[2], histX, histY, histXTicks, histYTicks, null, "U and V Wind Components");
const binWidth = 5;
const drawBins = (bins, color) =>
  hist.marks.append("g").selectAll("rect").data(bins).join("rect")
    .attr("x", (d) => histX(d[0]))
    .attr("width", (d) => histX(d[0] + binWidth) - histX(d[0]))
    .attr("y", (d) => histY(d[1]))
    .attr("height", (d) => histY(0) - histY(d[1]))
    .attr("fill", color).attr("fill-opacity", 0.65)
    .attr("stroke", "#000").attr("stroke-opacity", 0.65).attr("stroke-width", 1.39);
drawBins(uBins, colors.u);
drawBins(vBins, colors.v);

legendBox(1442, 815, 116.5, 32.7);
svg.append("rect").attr("x", 1447).attr("y", 820.5).attr("width", 24).attr("height", 8)
  .attr("fill", colors.u).attr("fill-opacity", 0.65).attr("stroke", "#000").attr("stroke-opacity", 0.65);
svg.append("rect").attr("x", 1447).attr("y", 835).attr("width", 24).attr("height", 8)
  .attr("fill", colors.v).attr("fill-opacity", 0.65).attr("stroke", "#000").attr("stroke-opacity", 0.65);
legendText(1478, 825, "U (zonal)");
legendText(1478, 839.5, "V (meridional)");

unitText(xLabel((right.x0 + right.x1) / 2, 1155, ""), "Wind speed (m s");
yLabel(821, (rows[2].y0 + rows[2].y1) / 2, "Frequency");
</script>
</body>
</html>
